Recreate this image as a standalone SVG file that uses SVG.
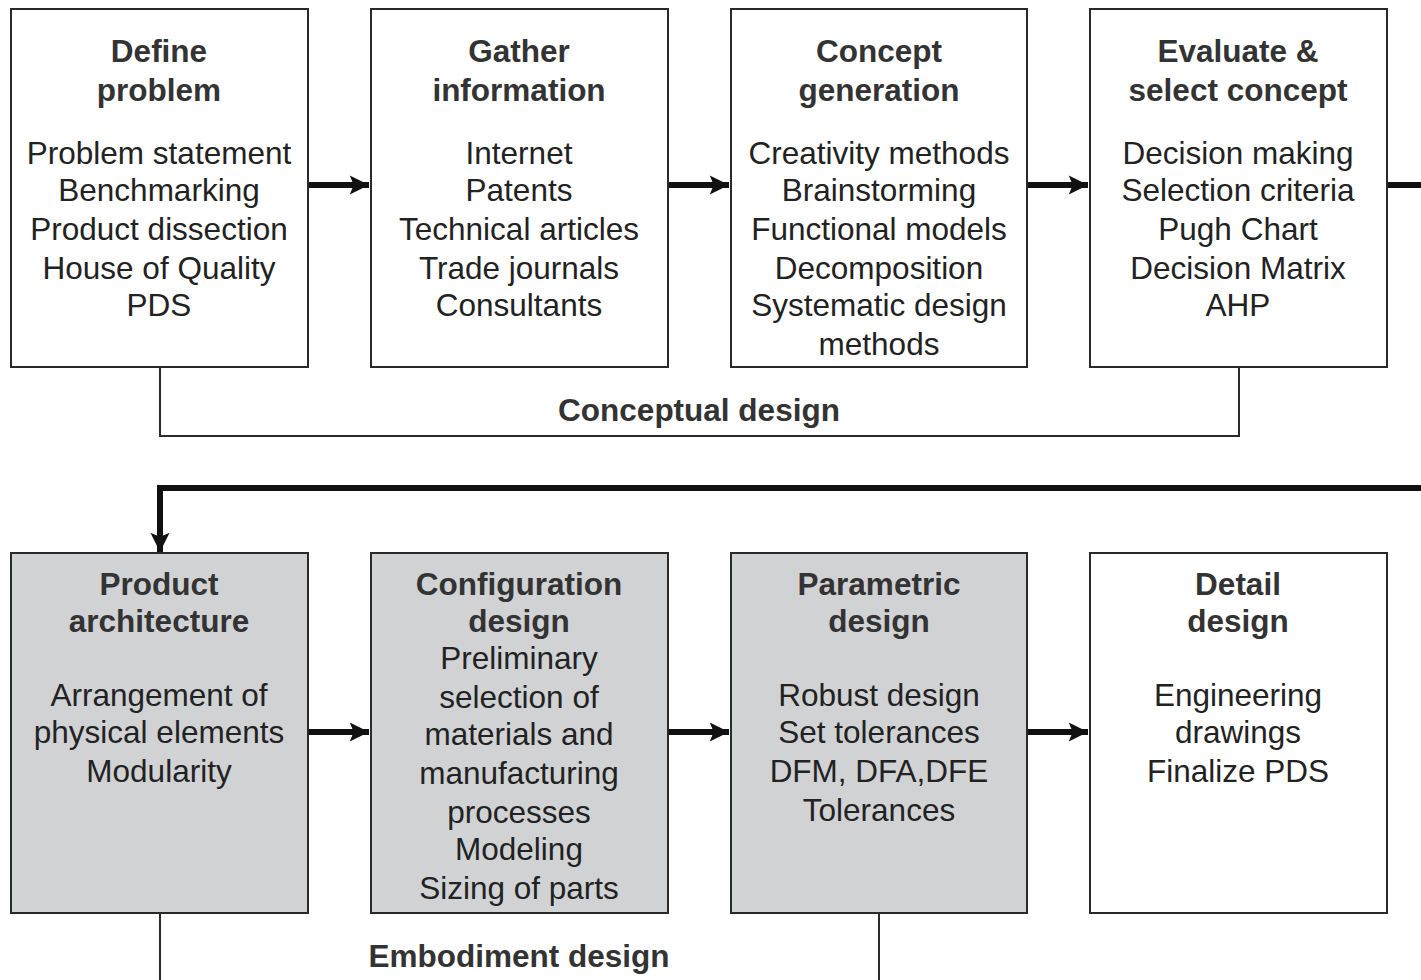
<svg xmlns="http://www.w3.org/2000/svg" width="1421" height="980" viewBox="0 0 1421 980">
<style>
.box{fill:#fff;stroke:#2a2a2a;stroke-width:2}
.grey{fill:#d1d2d4}
text{font-family:"Liberation Sans",Arial,sans-serif;font-size:31.5px;fill:#222;text-anchor:middle}
.t{font-weight:bold;fill:#333}
.thin{fill:none;stroke:#2a2a2a;stroke-width:2}
.thick{fill:none;stroke:#111;stroke-width:6}
</style>
<defs>
<marker id="ah" viewBox="0 0 10 10" refX="10" refY="5" markerWidth="4.3" markerHeight="3.2" markerUnits="strokeWidth" orient="auto">
<path d="M0,0 L10,5 L0,10 L2,5 z" fill="#111"/>
</marker>
</defs>
<rect width="1421" height="980" fill="#fff"/>
<g id="connectors">
<path class="thick" d="M308,185 H369" marker-end="url(#ah)"/>
<path class="thick" d="M668,185 H729" marker-end="url(#ah)"/>
<path class="thick" d="M1027,185 H1088" marker-end="url(#ah)"/>
<path class="thick" d="M1387,185 H1421"/>
<path class="thick" d="M1421,488 H160 V552" marker-end="url(#ah)"/>
<path class="thick" d="M308,732 H369" marker-end="url(#ah)"/>
<path class="thick" d="M668,732 H729" marker-end="url(#ah)"/>
<path class="thick" d="M1027,732 H1088" marker-end="url(#ah)"/>
<path class="thin" d="M160,367 V436 H1239 V367"/>
<path class="thin" d="M160,913 V980"/>
<path class="thin" d="M879,913 V980"/>
<text class="t" x="699" y="421">Conceptual design</text>
<text class="t" x="519" y="967">Embodiment design</text>
</g>
<g id="define">
<rect class="box" x="11" y="9" width="297" height="358"/>
<text class="t" x="159" y="62">Define</text>
<text class="t" x="159" y="101">problem</text>
<text x="159" y="164">Problem statement</text>
<text x="159" y="201">Benchmarking</text>
<text x="159" y="240">Product dissection</text>
<text x="159" y="279">House of Quality</text>
<text x="159" y="316">PDS</text>
</g>
<g id="gather">
<rect class="box" x="371" y="9" width="297" height="358"/>
<text class="t" x="519" y="62">Gather</text>
<text class="t" x="519" y="101">information</text>
<text x="519" y="164">Internet</text>
<text x="519" y="201">Patents</text>
<text x="519" y="240">Technical articles</text>
<text x="519" y="279">Trade journals</text>
<text x="519" y="316">Consultants</text>
</g>
<g id="concept">
<rect class="box" x="731" y="9" width="296" height="358"/>
<text class="t" x="879" y="62">Concept</text>
<text class="t" x="879" y="101">generation</text>
<text x="879" y="164">Creativity methods</text>
<text x="879" y="201">Brainstorming</text>
<text x="879" y="240">Functional models</text>
<text x="879" y="279">Decomposition</text>
<text x="879" y="316">Systematic design</text>
<text x="879" y="355">methods</text>
</g>
<g id="evaluate">
<rect class="box" x="1090" y="9" width="297" height="358"/>
<text class="t" x="1238" y="62">Evaluate &amp;</text>
<text class="t" x="1238" y="101">select concept</text>
<text x="1238" y="164">Decision making</text>
<text x="1238" y="201">Selection criteria</text>
<text x="1238" y="240">Pugh Chart</text>
<text x="1238" y="279">Decision Matrix</text>
<text x="1238" y="316">AHP</text>
</g>
<g id="architecture">
<rect class="box grey" x="11" y="553" width="297" height="360"/>
<text class="t" x="159" y="595">Product</text>
<text class="t" x="159" y="632">architecture</text>
<text x="159" y="706">Arrangement of</text>
<text x="159" y="743">physical elements</text>
<text x="159" y="782">Modularity</text>
</g>
<g id="configuration">
<rect class="box grey" x="371" y="553" width="297" height="360"/>
<text class="t" x="519" y="595">Configuration</text>
<text class="t" x="519" y="632">design</text>
<text x="519" y="669">Preliminary</text>
<text x="519" y="708">selection of</text>
<text x="519" y="745">materials and</text>
<text x="519" y="784">manufacturing</text>
<text x="519" y="823">processes</text>
<text x="519" y="860">Modeling</text>
<text x="519" y="899">Sizing of parts</text>
</g>
<g id="parametric">
<rect class="box grey" x="731" y="553" width="296" height="360"/>
<text class="t" x="879" y="595">Parametric</text>
<text class="t" x="879" y="632">design</text>
<text x="879" y="706">Robust design</text>
<text x="879" y="743">Set tolerances</text>
<text x="879" y="782">DFM, DFA,DFE</text>
<text x="879" y="821">Tolerances</text>
</g>
<g id="detail">
<rect class="box" x="1090" y="553" width="297" height="360"/>
<text class="t" x="1238" y="595">Detail</text>
<text class="t" x="1238" y="632">design</text>
<text x="1238" y="706">Engineering</text>
<text x="1238" y="743">drawings</text>
<text x="1238" y="782">Finalize PDS</text>
</g>
</svg>
